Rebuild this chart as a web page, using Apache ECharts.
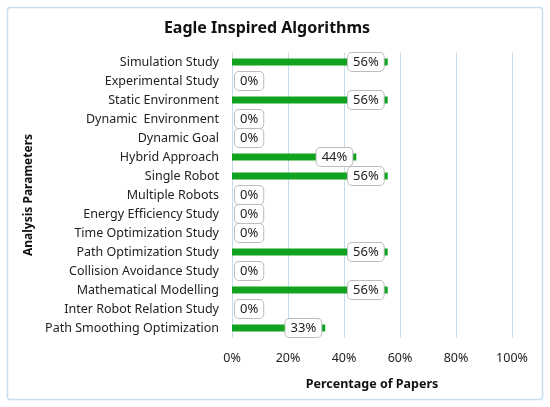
<!DOCTYPE html>
<html>
<head>
<meta charset="utf-8">
<script src="https://cdn.jsdelivr.net/npm/echarts@6/dist/echarts.min.js"></script>
<style>
  html, body { margin: 0; padding: 0; background: #fff; }
  #chart { width: 550px; height: 407px; }
</style>
</head>
<body>
<div id="chart"></div>
<script>
// analysis parameters, top to bottom
const categories = [
  'Simulation Study',
  'Experimental Study',
  'Static Environment',
  'Dynamic  Environment',
  'Dynamic Goal',
  'Hybrid Approach',
  'Single Robot',
  'Multiple Robots',
  'Energy Efficiency Study',
  'Time Optimization Study',
  'Path Optimization Study',
  'Collision Avoidance Study',
  'Mathematical Modelling',
  'Inter Robot Relation Study',
  'Path Smoothing Optimization'
]
// percentage of papers
const values = [55.6, 0, 55.6, 0, 0, 44.4, 55.6, 0, 0, 0, 55.6, 0, 55.6, 0, 33.3]
const xTicks = [0, 20, 40, 60, 80, 100]

const font = '"Noto Sans", "Open Sans", sans-serif'
const chart = echarts.init(document.getElementById('chart'))

chart.setOption({
  animation: false,
  textStyle: { fontFamily: font },
  title: {
    text: 'Eagle Inspired Algorithms',
    left: 262,
    textAlign: 'center',
    top: 15,
    textStyle: { fontSize: 16, fontWeight: 'bold', color: '#111', fontFamily: font }
  },
  graphic: [{
    type: 'rect',
    shape: { x: 7.5, y: 7.5, width: 535, height: 392, r: 3 },
    style: { fill: 'none', stroke: '#c9dff0', lineWidth: 1.5 },
    silent: true
  }],
  grid: { left: 232, right: 38, top: 52.5, bottom: 69.5 },
  xAxis: {
    type: 'value',
    min: xTicks[0],
    max: xTicks[xTicks.length - 1],
    interval: 20,
    axisLine: { show: false },
    axisTick: { show: false },
    splitLine: { lineStyle: { color: '#c6dcec', width: 1 } },
    axisLabel: { formatter: '{value}%', color: '#222', fontSize: 12.5, margin: 14 },
    name: 'Percentage of Papers',
    nameLocation: 'middle',
    nameGap: 40,
    nameTextStyle: { fontSize: 12.5, fontWeight: 'bold', color: '#111' }
  },
  yAxis: {
    type: 'category',
    inverse: true,
    data: categories,
    axisLine: { show: false },
    axisTick: { show: false },
    axisLabel: { color: '#222', fontSize: 12.5, margin: 13 },
    name: 'Analysis Parameters',
    nameLocation: 'middle',
    nameRotate: 90,
    nameGap: 184,
    nameTextStyle: { fontSize: 12, fontWeight: 'bold', color: '#111' }
  },
  series: [{
    type: 'bar',
    barWidth: 7,
    itemStyle: { color: '#11a21f' },
    data: values.map(v => ({
      value: v,
      label: v > 0
        ? { position: 'insideRight', distance: 4 }
        : { position: 'right', distance: 3 }
    })),
    label: {
      show: true,
      formatter: p => Math.round(p.value) + '%',
      color: '#222',
      fontSize: 13,
      backgroundColor: '#fff',
      borderColor: '#bdbdbd',
      borderWidth: 1,
      borderRadius: 4,
      padding: [3, 5, 2, 5]
    }
  }]
})
</script>
</body>
</html>
